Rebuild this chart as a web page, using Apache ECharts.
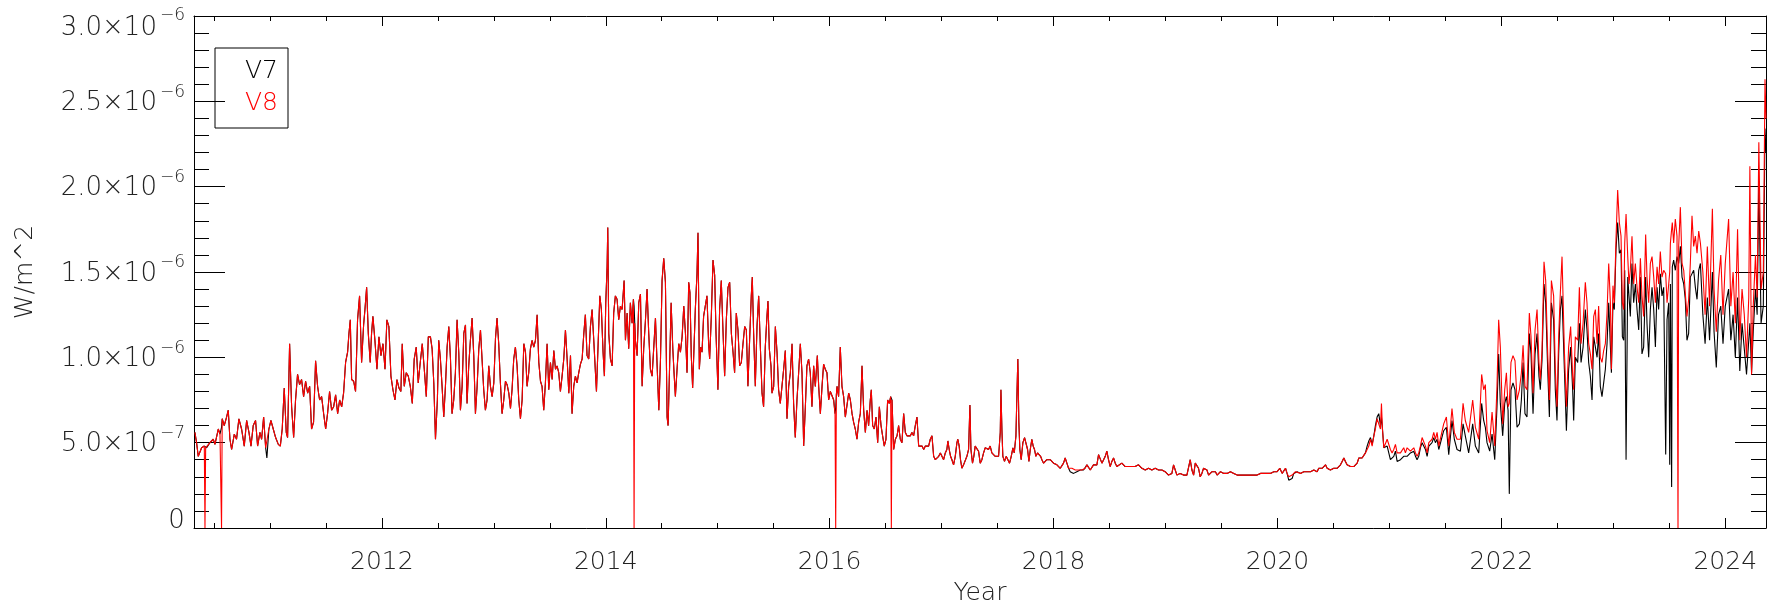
<!DOCTYPE html>
<html><head><meta charset="utf-8">
<script src="https://cdn.jsdelivr.net/npm/echarts@6.0.0/dist/echarts.min.js"></script>
<style>html,body{margin:0;padding:0;background:#fff}#chart{width:1777px;height:612px}</style>
</head><body><div id="chart"></div>
<script>
// Values, in units of 1e-7 W/m^2 (decimal years on x)
const years = [
2010.330,2010.345,2010.360,2010.390,2010.414,2010.420,2010.426,2010.435,2010.464,2010.494,
2010.509,2010.539,2010.554,2010.568,2010.574,2010.592,2010.613,2010.628,2010.643,2010.658,
2010.682,2010.702,2010.723,2010.747,2010.771,2010.792,2010.813,2010.831,2010.851,2010.872,
2010.890,2010.911,2010.926,2010.944,2010.962,2010.973,2010.991,2011.009,2011.030,2011.051,
2011.075,2011.093,2011.110,2011.128,2011.146,2011.158,2011.176,2011.194,2011.212,2011.229,
2011.247,2011.265,2011.283,2011.301,2011.319,2011.337,2011.355,2011.372,2011.390,2011.408,
2011.426,2011.444,2011.462,2011.480,2011.498,2011.515,2011.533,2011.551,2011.569,2011.587,
2011.605,2011.623,2011.641,2011.658,2011.676,2011.694,2011.706,2011.718,2011.730,2011.748,
2011.765,2011.783,2011.801,2011.819,2011.837,2011.849,2011.864,2011.879,2011.896,2011.908,
2011.920,2011.938,2011.956,2011.974,2011.992,2012.010,2012.028,2012.045,2012.063,2012.081,
2012.099,2012.117,2012.135,2012.153,2012.170,2012.182,2012.200,2012.218,2012.236,2012.254,
2012.272,2012.289,2012.307,2012.325,2012.343,2012.361,2012.379,2012.397,2012.415,2012.434,
2012.449,2012.464,2012.479,2012.496,2012.508,2012.523,2012.538,2012.553,2012.568,2012.583,
2012.598,2012.613,2012.627,2012.642,2012.657,2012.672,2012.687,2012.702,2012.717,2012.732,
2012.747,2012.761,2012.776,2012.791,2012.806,2012.821,2012.836,2012.851,2012.866,2012.881,
2012.895,2012.910,2012.925,2012.940,2012.955,2012.970,2012.985,2013.000,2013.015,2013.029,
2013.044,2013.059,2013.074,2013.089,2013.104,2013.119,2013.134,2013.149,2013.163,2013.178,
2013.193,2013.208,2013.223,2013.238,2013.253,2013.268,2013.283,2013.297,2013.312,2013.327,
2013.342,2013.357,2013.372,2013.387,2013.402,2013.417,2013.431,2013.446,2013.461,2013.476,
2013.491,2013.506,2013.521,2013.536,2013.551,2013.565,2013.580,2013.595,2013.610,2013.625,
2013.640,2013.655,2013.670,2013.685,2013.699,2013.714,2013.729,2013.744,2013.759,2013.774,
2013.789,2013.804,2013.818,2013.833,2013.848,2013.863,2013.878,2013.893,2013.908,2013.917,
2013.932,2013.947,2013.961,2013.976,2013.988,2014.000,2014.012,2014.018,2014.027,2014.042,
2014.057,2014.071,2014.086,2014.101,2014.116,2014.131,2014.146,2014.164,2014.176,2014.191,
2014.205,2014.220,2014.235,2014.247,2014.253,2014.259,2014.265,2014.280,2014.295,2014.310,
2014.325,2014.339,2014.354,2014.369,2014.384,2014.399,2014.414,2014.429,2014.444,2014.459,
2014.474,2014.489,2014.503,2014.518,2014.533,2014.548,2014.557,2014.569,2014.584,2014.599,
2014.610,2014.622,2014.637,2014.652,2014.667,2014.682,2014.697,2014.712,2014.726,2014.741,
2014.752,2014.764,2014.776,2014.788,2014.800,2014.815,2014.824,2014.836,2014.848,2014.860,
2014.874,2014.889,2014.904,2014.919,2014.928,2014.943,2014.958,2014.973,2014.985,2015.002,
2015.017,2015.032,2015.047,2015.062,2015.077,2015.092,2015.107,2015.122,2015.137,2015.151,
2015.166,2015.181,2015.196,2015.211,2015.226,2015.241,2015.256,2015.270,2015.285,2015.300,
2015.309,2015.321,2015.336,2015.351,2015.366,2015.381,2015.396,2015.410,2015.425,2015.440,
2015.449,2015.461,2015.476,2015.485,2015.500,2015.515,2015.530,2015.544,2015.559,2015.574,
2015.589,2015.604,2015.619,2015.634,2015.649,2015.664,2015.678,2015.693,2015.708,2015.723,
2015.738,2015.753,2015.768,2015.783,2015.797,2015.812,2015.827,2015.842,2015.857,2015.872,
2015.890,2015.902,2015.917,2015.932,2015.946,2015.961,2015.976,2015.991,2016.006,2016.021,
2016.036,2016.048,2016.054,2016.060,2016.066,2016.080,2016.095,2016.110,2016.125,2016.140,
2016.155,2016.170,2016.185,2016.200,2016.214,2016.229,2016.244,2016.259,2016.274,2016.289,
2016.304,2016.319,2016.334,2016.348,2016.363,2016.372,2016.384,2016.399,2016.414,2016.429,
2016.444,2016.459,2016.473,2016.488,2016.503,2016.518,2016.533,2016.545,2016.551,2016.557,
2016.572,2016.587,2016.602,2016.616,2016.631,2016.646,2016.661,2016.676,2016.691,2016.706,
2016.721,2016.735,2016.750,2016.765,2016.780,2016.795,2016.810,2016.825,2016.840,2016.855,
2016.869,2016.884,2016.899,2016.914,2016.929,2016.944,2016.959,2016.974,2016.989,2017.003,
2017.018,2017.033,
2017.047,2017.056,2017.068,2017.080,2017.092,2017.107,2017.122,2017.137,2017.145,2017.157,
2017.169,2017.181,2017.196,2017.211,2017.226,2017.241,2017.253,2017.262,2017.276,2017.288,
2017.300,2017.315,2017.330,2017.345,2017.360,2017.375,2017.390,2017.405,2017.419,2017.434,
2017.449,2017.464,2017.479,2017.494,2017.509,2017.524,2017.530,2017.539,2017.547,2017.562,
2017.577,2017.592,2017.607,2017.622,2017.637,2017.649,2017.664,2017.672,2017.681,2017.690,
2017.699,2017.711,2017.726,2017.741,2017.756,2017.768,2017.780,2017.792,2017.806,2017.818,
2017.830,2017.842,2017.857,2017.872,2017.884,2017.896,2017.911,2017.926,2017.940,2017.955,
2017.970,2017.985,2018.000,2018.015,2018.030,2018.045,2018.060,2018.075,2018.089,2018.104,
2018.119,2018.134,2018.149,2018.164,2018.179,2018.194,2018.208,2018.223,2018.238,2018.253,
2018.268,2018.283,2018.298,2018.313,2018.328,2018.342,2018.357,2018.372,2018.387,2018.402,
2018.417,2018.432,2018.447,2018.462,2018.476,2018.491,2018.506,2018.521,2018.536,2018.551,
2018.566,2018.581,2018.610,2018.640,2018.670,2018.700,2018.729,2018.759,2018.789,2018.819,
2018.849,2018.878,2018.908,2018.938,2018.968,2018.997,2019.012,2019.027,2019.042,2019.057,
2019.072,2019.087,2019.102,2019.117,2019.131,2019.146,2019.161,2019.176,2019.191,2019.206,
2019.221,2019.236,2019.251,2019.266,2019.280,2019.295,2019.310,2019.325,2019.340,2019.355,
2019.370,2019.385,
2019.402,2019.416,2019.431,2019.446,2019.461,2019.491,2019.521,2019.550,2019.580,2019.610,
2019.640,2019.669,2019.699,2019.729,2019.759,2019.789,2019.818,2019.848,2019.878,2019.908,
2019.937,2019.967,2019.997,2020.021,2020.042,2020.057,2020.072,2020.086,2020.101,2020.116,
2020.131,2020.146,2020.161,2020.176,2020.205,2020.235,2020.265,2020.295,2020.325,2020.339,
2020.354,2020.369,2020.384,2020.399,2020.414,2020.429,2020.444,2020.459,2020.473,2020.488,
2020.503,2020.518,2020.533,2020.548,2020.563,2020.578,2020.593,2020.607,2020.622,2020.637,
2020.652,2020.667,2020.682,2020.697,2020.712,2020.727,2020.741,2020.756,2020.771,2020.786,
2020.801,2020.816,2020.831,2020.846,2020.861,2020.875,2020.890,2020.905,2020.920,2020.929,
2020.938,2020.950,2020.965,2020.980,2020.995,2021.009,2021.024,2021.039,2021.054,2021.069,
2021.084,2021.099,2021.114,2021.128,2021.143,2021.158,2021.173,2021.188,2021.203,2021.218,
2021.233,2021.247,2021.262,2021.277,2021.292,2021.307,2021.322,2021.337,2021.352,2021.366,
2021.381,2021.396,2021.411,2021.426,2021.441,
2021.455,2021.485,2021.509,2021.530,2021.559,2021.580,2021.604,2021.634,2021.658,2021.678,
2021.708,2021.744,2021.768,2021.798,2021.824,2021.842,2021.857,2021.872,2021.896,2021.917,
2021.941,2021.961,2021.976,2021.991,2022.012,2022.030,2022.045,2022.060,2022.071,2022.086,
2022.104,2022.122,2022.140,2022.161,2022.179,2022.194,2022.211,2022.229,2022.250,2022.265,
2022.283,2022.301,2022.319,2022.336,2022.348,2022.363,2022.381,2022.396,2022.414,2022.429,
2022.447,2022.467,2022.482,2022.497,2022.512,2022.527,2022.542,2022.563,2022.581,2022.601,
2022.619,2022.637,2022.646,2022.661,2022.682,2022.697,2022.712,2022.730,2022.750,2022.765,
2022.780,2022.795,2022.810,2022.825,2022.840,2022.855,2022.869,2022.884,2022.899,2022.914,
2022.929,2022.944,2022.959,2022.974,2022.983,2022.997,2023.009,2023.024,2023.039,2023.054,
2023.069,2023.081,2023.093,2023.102,2023.114,2023.129,2023.140,2023.152,2023.167,2023.182,
2023.197,2023.212,2023.227,2023.242,2023.256,2023.271,2023.289,2023.301,2023.316,2023.331,
2023.346,2023.361,2023.376,2023.391,2023.405,2023.420,2023.435,2023.450,2023.468,2023.480,
2023.495,2023.504,2023.510,2023.521,2023.527,2023.539,2023.554,2023.569,2023.578,2023.584,
2023.599,2023.614,2023.629,2023.643,2023.658,2023.673,2023.688,2023.703,2023.718,2023.733,
2023.748,2023.763,2023.778,
2023.800,2023.820,2023.840,2023.860,2023.885,2023.900,2023.920,2023.940,2023.960,2023.980,
2024.000,2024.030,2024.050,2024.070,2024.090,2024.110,2024.130,2024.150,2024.170,2024.190,
2024.210,2024.220,2024.235,2024.250,2024.270,2024.285,2024.300,2024.320,2024.340,2024.355,
2024.364
];

const v7 = [
5.6,5.0,4.2,4.7,4.8,4.8,4.7,4.7,5.0,5.2,
4.9,5.8,5.5,5.9,6.4,6.0,6.5,6.9,5.2,4.6,
5.5,5.2,6.4,5.8,4.8,6.3,5.6,4.8,6.0,6.3,
4.8,5.6,5.2,6.5,4.7,4.1,5.8,6.3,5.8,5.3,
4.9,4.8,5.8,8.2,5.6,5.3,10.8,7.1,5.3,7.5,
9.0,8.4,8.7,7.7,8.6,7.9,8.3,5.8,6.2,9.8,
8.3,7.5,7.7,6.7,5.8,6.7,8.0,6.9,7.1,7.8,
6.7,7.5,7.1,7.9,9.7,10.3,11.4,12.2,8.7,8.6,
8.0,12.2,13.6,9.7,11.9,12.8,14.1,11.4,9.7,11.4,
12.4,11.0,9.3,11.2,10.1,10.8,9.3,12.2,11.8,8.9,
8.1,7.5,8.7,8.2,8.0,10.8,8.3,9.1,8.9,8.3,
7.3,9.9,10.6,8.5,9.7,10.8,9.3,7.7,11.2,11.2,
10.5,8.5,5.2,7.5,11.0,9.9,8.3,6.5,8.3,10.6,
11.8,9.9,6.7,7.5,9.1,12.2,10.3,6.9,8.3,11.4,
11.9,7.3,9.5,11.0,12.3,10.1,6.7,8.3,10.5,11.6,
9.9,8.1,6.9,7.5,9.5,8.3,7.7,8.5,11.1,12.3,
10.8,8.5,6.7,7.5,8.6,8.4,7.9,7.0,8.1,9.9,
10.6,9.5,7.5,6.4,7.5,10.8,10.3,8.3,9.1,10.5,
11.0,10.6,11.0,12.5,9.7,8.6,8.3,6.9,8.5,10.8,
8.1,9.7,8.7,10.4,9.3,9.5,9.1,8.0,8.9,9.9,
11.6,9.9,7.9,10.1,6.7,8.3,8.9,8.5,9.1,9.6,
9.9,11.4,12.5,10.1,9.9,11.8,12.8,11.0,9.1,8.0,
10.8,13.6,12.8,10.3,8.9,13.2,15.3,17.6,11.4,9.9,
9.5,12.6,13.6,13.4,12.2,13.0,12.8,14.5,11.0,12.6,
10.5,13.2,12.0,13.4,13.0,12.0,11.0,10.1,13.2,13.7,
8.3,10.5,12.1,14.0,11.4,9.3,8.9,10.6,12.3,9.5,
6.9,9.9,14.5,15.8,14.4,6.5,6.0,9.1,13.2,10.5,
9.1,7.7,9.3,10.8,10.3,11.2,13.0,11.4,9.1,14.4,
13.8,10.1,8.2,10.5,12.8,14.9,17.3,9.3,10.6,10.3,
12.4,13.0,13.6,10.8,9.9,12.4,15.7,14.8,11.4,8.1,
12.8,14.5,11.6,8.9,12.2,14.1,14.4,11.4,10.3,9.1,
12.6,11.6,9.5,9.7,10.8,11.8,11.6,8.3,11.0,13.6,
14.7,11.4,8.3,11.8,13.6,10.6,7.9,7.1,10.6,12.4,
13.3,10.5,9.5,7.9,8.3,11.8,10.3,8.1,7.3,8.3,
9.3,10.4,6.4,8.3,9.1,10.8,7.3,5.3,7.5,9.1,
10.8,9.1,4.8,7.1,9.5,9.9,9.1,7.1,9.5,8.3,
10.1,8.3,6.7,8.3,9.6,9.3,9.1,7.5,8.0,7.9,
7.5,6.7,7.0,7.8,8.3,7.7,10.6,8.3,7.7,6.5,
6.4,7.9,7.5,6.7,6.2,5.8,5.2,6.2,6.7,9.5,
6.9,5.6,6.9,6.0,7.5,8.1,6.0,5.8,6.5,5.0,
7.1,6.0,5.4,4.8,5.2,7.5,7.3,7.7,7.6,7.5,
4.6,5.2,5.4,6.0,5.2,5.0,6.7,5.6,5.4,5.5,
5.4,5.6,5.4,6.0,6.5,4.8,4.7,4.8,4.6,4.8,
4.7,4.8,5.2,5.4,4.2,4.0,4.0,4.2,4.4,4.2,
4.0,4.4,
4.6,5.1,4.6,4.2,4.0,3.7,4.2,5.0,5.2,4.8,
4.0,3.5,3.7,3.8,4.2,4.6,7.2,4.6,3.8,4.2,
4.8,4.7,4.5,3.8,4.0,4.4,4.7,4.8,4.6,4.8,
4.4,4.3,4.2,4.1,4.2,5.6,8.1,5.7,4.2,3.9,
4.2,4.0,3.8,4.2,4.7,4.4,5.4,7.6,9.9,6.2,
4.6,4.0,5.0,5.3,5.2,4.6,3.9,4.6,5.2,4.8,
4.6,4.2,4.4,4.5,4.2,4.0,3.8,3.7,4.0,4.1,
4.0,4.1,3.8,3.7,3.7,3.7,3.5,3.6,3.8,4.1,
3.8,3.5,3.3,3.3,3.2,3.2,3.3,3.3,3.4,3.4,
3.4,3.5,3.7,3.8,3.4,3.5,3.7,3.8,3.7,4.3,
4.4,3.8,3.9,4.2,4.5,4.0,3.6,3.9,4.1,3.8,
3.6,3.7,3.8,3.6,3.6,3.6,3.6,3.7,3.5,3.4,
3.5,3.4,3.5,3.4,3.4,3.3,3.2,3.1,3.1,3.2,
3.7,3.4,3.1,3.2,3.2,3.3,3.1,3.2,3.1,3.2,
4.0,3.4,3.1,3.8,3.8,3.5,3.0,3.2,3.5,3.6,
3.4,3.1,
3.1,3.3,3.4,3.3,3.1,3.3,3.2,3.2,3.3,3.2,
3.1,3.1,3.1,3.1,3.1,3.1,3.1,3.2,3.2,3.2,
3.2,3.3,3.3,3.5,3.2,3.3,3.5,3.2,2.8,2.7,
2.9,3.2,3.3,3.3,3.2,3.3,3.3,3.3,3.4,3.5,
3.3,3.5,3.4,3.5,3.6,3.7,3.5,3.4,3.4,3.5,
3.5,3.6,3.5,3.5,3.7,3.9,4.1,3.9,3.7,3.6,
3.6,3.6,3.6,3.6,3.8,4.1,4.2,4.1,4.2,4.4,
4.8,5.1,5.3,4.9,5.4,6.0,6.5,6.7,6.0,6.5,
5.8,4.7,4.6,4.8,4.7,4.0,3.9,4.2,4.5,3.9,
3.9,4.0,4.1,4.2,4.2,4.2,4.3,4.4,4.4,4.5,
4.2,4.0,4.2,4.7,5.0,5.0,4.6,4.2,4.8,4.7,
5.0,5.3,5.0,5.2,4.6,
4.6,5.7,5.9,4.3,6.3,5.2,4.6,4.5,6.1,5.4,
4.4,6.1,4.8,4.4,7.3,6.3,5.9,5.0,4.5,5.5,
4.0,7.1,10.2,7.3,5.4,7.3,7.7,6.9,2.0,8.1,
8.5,8.1,5.9,6.1,7.5,9.7,6.7,6.5,11.4,10.2,
6.7,10.2,11.4,8.9,8.1,9.8,14.3,13.2,9.3,6.5,
13.2,12.2,8.1,6.3,10.2,12.8,13.6,9.3,5.7,9.3,
10.6,8.1,6.3,10.0,9.7,12.0,9.7,10.6,12.8,11.6,
9.7,8.9,7.5,11.2,11.2,10.0,11.4,8.3,7.7,8.5,
9.3,10.8,13.2,10.6,9.1,13.2,12.8,16.3,17.9,16.1,
16.3,11.2,11.0,15.1,4.0,14.7,13.6,12.4,15.5,13.2,
14.3,12.8,11.6,14.7,10.2,10.6,14.7,12.0,10.0,12.8,
14.1,12.8,10.6,14.1,12.8,14.9,13.6,14.1,4.3,12.2,
13.2,3.7,14.3,2.4,15.3,15.7,15.1,15.9,16.0,15.5,
16.5,14.7,14.3,13.4,11.0,11.4,14.7,14.7,15.1,14.1,
13.4,15.1,15.5,
12.5,10.8,13.5,11.0,15.0,11.5,9.4,12.5,13.0,10.8,
13.0,14.0,11.0,12.5,10.0,13.5,9.2,12.0,10.5,9.0,
11.0,12.0,9.1,11.5,14.0,12.5,20.2,12.0,13.0,23.4,
22.0
];

const v8 = [
5.6,5.0,4.2,4.7,4.8,0,4.7,4.7,5.0,5.2,
4.9,5.8,5.5,0,6.4,6.0,6.5,6.9,5.2,4.6,
5.5,5.2,6.4,5.8,4.8,6.3,5.6,4.8,6.0,6.3,
4.8,5.6,5.2,6.5,4.7,4.6,5.8,6.3,5.8,5.3,
4.9,4.8,5.8,8.2,5.6,5.3,10.8,7.1,5.3,7.5,
9.0,8.4,8.7,7.7,8.6,7.9,8.3,5.8,6.2,9.8,
8.3,7.5,7.7,6.7,5.8,6.7,8.0,6.9,7.1,7.8,
6.7,7.5,7.1,7.9,9.7,10.3,11.4,12.2,8.7,8.6,
8.0,12.2,13.6,9.7,11.9,12.8,14.1,11.4,9.7,11.4,
12.4,11.0,9.3,11.2,10.1,10.8,9.3,12.2,11.8,8.9,
8.1,7.5,8.7,8.2,8.0,10.8,8.3,9.1,8.9,8.3,
7.3,9.9,10.6,8.5,9.7,10.8,9.3,7.7,11.2,11.2,
10.5,8.5,5.2,7.5,11.0,9.9,8.3,6.5,8.3,10.6,
11.8,9.9,6.7,7.5,9.1,12.2,10.3,6.9,8.3,11.4,
11.9,7.3,9.5,11.0,12.3,10.1,6.7,8.3,10.5,11.6,
9.9,8.1,6.9,7.5,9.5,8.3,7.7,8.5,11.1,12.3,
10.8,8.5,6.7,7.5,8.6,8.4,7.9,7.0,8.1,9.9,
10.6,9.5,7.5,6.4,7.5,10.8,10.3,8.3,9.1,10.5,
11.0,10.6,11.0,12.5,9.7,8.6,8.3,6.9,8.5,10.8,
8.1,9.7,8.7,10.4,9.3,9.5,9.1,8.0,8.9,9.9,
11.6,9.9,7.9,10.1,6.7,8.3,8.9,8.5,9.1,9.6,
9.9,11.4,12.5,10.1,9.9,11.8,12.8,11.0,9.1,8.0,
10.8,13.6,12.8,10.3,8.9,13.2,15.3,17.6,11.4,9.9,
9.5,12.6,13.6,13.4,12.2,13.0,12.8,14.5,11.0,12.6,
10.5,13.2,12.0,13.4,0,12.0,11.0,10.1,13.2,13.7,
8.3,10.5,12.1,14.0,11.4,9.3,8.9,10.6,12.3,9.5,
6.9,9.9,14.5,15.8,14.4,6.5,6.0,9.1,13.2,10.5,
9.1,7.7,9.3,10.8,10.3,11.2,13.0,11.4,9.1,14.4,
13.8,10.1,8.2,10.5,12.8,14.9,17.3,9.3,10.6,10.3,
12.4,13.0,13.6,10.8,9.9,12.4,15.7,14.8,11.4,8.1,
12.8,14.5,11.6,8.9,12.2,14.1,14.4,11.4,10.3,9.1,
12.6,11.6,9.5,9.7,10.8,11.8,11.6,8.3,11.0,13.6,
14.7,11.4,8.3,11.8,13.6,10.6,7.9,7.1,10.6,12.4,
13.3,10.5,9.5,7.9,8.3,11.8,10.3,8.1,7.3,8.3,
9.3,10.4,6.4,8.3,9.1,10.8,7.3,5.3,7.5,9.1,
10.8,9.1,4.8,7.1,9.5,9.9,9.1,7.1,9.5,8.3,
10.1,8.3,6.7,8.3,9.6,9.3,9.1,7.5,8.0,7.9,
7.5,6.7,0,7.8,8.3,7.7,10.6,8.3,7.7,6.5,
6.4,7.9,7.5,6.7,6.2,5.8,5.2,6.2,6.7,9.5,
6.9,5.6,6.9,6.0,7.5,8.1,6.0,5.8,6.5,5.0,
7.1,6.0,5.4,4.8,5.2,7.5,7.3,7.7,0,7.5,
4.6,5.2,5.4,6.0,5.2,5.0,6.7,5.6,5.4,5.5,
5.4,5.6,5.4,6.0,6.5,4.8,4.7,4.8,4.6,4.8,
4.7,4.8,5.2,5.4,4.2,4.0,4.0,4.2,4.4,4.2,
4.0,4.4,
4.6,5.1,4.6,4.2,4.0,3.7,4.2,5.0,5.2,4.8,
4.0,3.5,3.7,3.8,4.2,4.6,7.2,4.6,3.8,4.2,
4.8,4.7,4.5,3.8,4.0,4.4,4.7,4.8,4.6,4.8,
4.4,4.3,4.2,4.1,4.2,5.6,8.1,5.7,4.2,3.9,
4.2,4.0,3.8,4.2,4.7,4.4,5.4,7.6,9.9,6.2,
4.6,4.0,5.0,5.3,5.2,4.6,3.9,4.6,5.2,4.8,
4.6,4.2,4.4,4.5,4.2,4.0,3.8,3.7,4.0,4.1,
4.0,4.1,3.8,3.7,3.7,3.7,3.5,3.6,3.8,4.1,
3.8,3.5,3.5,3.5,3.4,3.4,3.4,3.4,3.4,3.4,
3.4,3.5,3.7,3.8,3.4,3.5,3.7,3.8,3.7,4.3,
4.4,3.8,3.9,4.2,4.5,4.0,3.6,3.9,4.1,3.8,
3.6,3.7,3.8,3.6,3.6,3.6,3.6,3.7,3.5,3.4,
3.5,3.4,3.5,3.4,3.4,3.3,3.2,3.1,3.1,3.2,
3.7,3.4,3.1,3.2,3.2,3.3,3.1,3.2,3.1,3.2,
4.0,3.4,3.1,3.8,3.8,3.5,3.0,3.2,3.5,3.6,
3.4,3.1,
3.1,3.3,3.4,3.3,3.1,3.3,3.2,3.2,3.3,3.2,
3.1,3.1,3.1,3.1,3.1,3.1,3.1,3.2,3.2,3.2,
3.2,3.3,3.3,3.5,3.2,3.3,3.5,3.2,3.0,3.0,
3.1,3.2,3.3,3.3,3.2,3.3,3.3,3.3,3.4,3.5,
3.3,3.5,3.4,3.5,3.6,3.7,3.5,3.4,3.4,3.5,
3.5,3.6,3.5,3.5,3.7,3.9,4.1,3.9,3.7,3.6,
3.6,3.6,3.6,3.6,3.8,4.1,4.2,4.1,4.2,4.4,
4.4,4.8,5.2,4.8,5.4,5.8,6.4,6.5,5.8,7.3,
5.8,4.7,4.8,5.2,5.3,4.6,4.4,4.6,4.9,4.4,
4.3,4.4,4.5,4.7,4.4,4.7,4.6,4.5,4.6,4.7,
4.4,4.2,4.4,4.8,5.3,5.2,4.8,4.4,5.0,4.9,
5.2,5.6,5.2,5.6,4.8,
4.7,6.1,6.5,4.8,7.0,5.6,5.2,5.2,7.3,6.3,
5.6,7.5,5.9,5.2,9.0,8.1,8.4,5.7,5.0,6.8,
4.8,8.3,12.2,10.6,6.1,8.1,9.1,7.1,7.3,9.7,
10.1,9.8,7.5,8.1,9.1,10.7,8.3,8.1,12.6,11.2,
7.9,11.6,12.8,9.7,8.7,10.4,15.6,14.5,10.2,7.5,
14.5,13.6,9.3,7.1,11.2,13.8,15.9,10.4,7.1,10.6,
11.8,8.9,8.1,11.2,11.0,14.1,10.8,12.0,14.4,13.2,
10.8,10.2,9.3,12.4,12.8,10.8,13.0,10.0,9.7,10.4,
10.8,12.6,15.5,13.2,9.3,14.2,13.2,16.9,19.8,17.9,
17.1,13.2,12.8,16.7,18.4,15.9,14.3,15.1,17.1,14.3,
15.5,14.1,13.2,15.8,13.6,12.4,17.2,14.7,13.2,15.5,
15.9,14.7,13.2,15.3,14.3,16.2,14.7,15.1,14.9,13.2,
14.3,15.0,16.7,17.5,17.9,16.7,18.1,17.1,0,16.5,
18.8,15.5,15.1,13.8,12.4,13.4,15.5,18.3,16.5,17.1,
16.1,17.4,16.7,
15.0,12.5,16.5,13.0,18.7,14.0,11.5,14.5,16.0,12.5,
15.5,18.1,13.0,15.0,12.0,17.5,11.0,14.0,12.5,10.0,
13.5,21.2,9.0,13.0,16.0,13.5,22.6,14.0,15.0,26.3,
24.0
];

const seriesNames = ['V7', 'V8'];
const seriesColors = ['#000000', '#ff0000'];
const xRange = [2010.322, 2024.364];
const yRange = [0, 30];   // 0 .. 3.0e-6 in units of 1e-7

const FONT = "'DejaVu Sans', 'Liberation Sans', sans-serif";
const FW = 200;
const TXT = '#222222';

function yLabel(v) {
  if (v === 0) return '{z|0}{e| }';
  const big = v >= 10;
  const mant = (big ? v / 10 : v).toFixed(1);
  const ex = big ? '6' : '7';
  if (v === yRange[1]) return '{bt|' + mant + '×10}{st|−' + ex + '}';
  return '{b|' + mant + '×10}{s|−' + ex + '}';
}

const n = Math.min(years.length, v7.length, v8.length);
const d7 = [], d8 = [];
for (let i = 0; i < n; i++) { d7.push([years[i], v7[i]]); d8.push([years[i], v8[i]]); }

const axisLine = { show: true, onZero: false, lineStyle: { color: '#000', width: 1 } };
const xCommon = {
  type: 'value', min: xRange[0], max: xRange[1], splitNumber: 7, minInterval: 2, maxInterval: 2,
  axisLine: axisLine,
  axisTick: { show: true, inside: true, length: 10, lineStyle: { color: '#000', width: 1 } },
  minorTick: { show: true, splitNumber: 4, length: 5, lineStyle: { color: '#000', width: 1 } },
  splitLine: { show: false }, minorSplitLine: { show: false }
};
const yCommon = {
  type: 'value', min: yRange[0], max: yRange[1], interval: 5,
  axisLine: axisLine,
  axisTick: { show: true, inside: true, length: 31, lineStyle: { color: '#000', width: 1 } },
  minorTick: { show: true, splitNumber: 5, length: 15, lineStyle: { color: '#000', width: 1 } },
  splitLine: { show: false }, minorSplitLine: { show: false }
};
const t = (size, extra) => Object.assign({ fontSize: size, fontFamily: FONT, fontWeight: FW, color: TXT }, extra || {});

const chart = echarts.init(document.getElementById('chart'), null, { renderer: 'canvas' });
chart.setOption({
  animation: false,
  backgroundColor: '#ffffff',
  textStyle: { fontFamily: FONT, fontWeight: FW },
  grid: { left: 194, right: 11, top: 16, bottom: 84 },
  legend: {
    show: true, left: 215, top: 48, orient: 'vertical', align: 'left',
    icon: 'none', itemWidth: 0, itemHeight: 0, itemGap: 4,
    padding: [9, 10, 11, 25], borderColor: '#000', borderWidth: 1, selectedMode: false,
    textStyle: { fontSize: 25, fontFamily: FONT, fontWeight: FW, lineHeight: 28 },
    data: [
      { name: seriesNames[0], textStyle: { color: seriesColors[0] } },
      { name: seriesNames[1], textStyle: { color: seriesColors[1] } }
    ]
  },
  xAxis: [
    Object.assign({}, xCommon, {
      position: 'bottom',
      name: 'Year', nameLocation: 'middle', nameGap: 53,
      nameTextStyle: t(25),
      axisLabel: Object.assign(t(25), {
        show: true, margin: 22, showMinLabel: false, showMaxLabel: false,
        formatter: function (v) { return Number.isInteger(v) ? String(v) : ''; }
      })
    }),
    Object.assign({}, xCommon, { position: 'top', axisLabel: { show: false } })
  ],
  yAxis: [
    Object.assign({}, yCommon, {
      position: 'left',
      name: 'W/m^2', nameLocation: 'middle', nameGap: 156,
      nameTextStyle: t(25),
      axisLabel: Object.assign(t(26), {
        show: true, margin: 9,
        formatter: yLabel,
        rich: {
          b: t(26, { lineHeight: 40, height: 36, verticalAlign: 'bottom' }),
          s: t(17, { lineHeight: 22, height: 22, verticalAlign: 'top', padding: [0, 0, 0, 3] }),
          bt: t(26, { lineHeight: 40, height: 15, verticalAlign: 'bottom' }),
          st: t(17, { verticalAlign: 'middle', padding: [0, 0, 0, 3] }),
          z: t(26, { height: 27, verticalAlign: 'top' }),
          e: { fontSize: 1, lineHeight: 40 }
        }
      })
    }),
    Object.assign({}, yCommon, { position: 'right', axisLabel: { show: false } })
  ],
  series: [
    { name: seriesNames[0], type: 'line', xAxisIndex: 0, yAxisIndex: 0, data: d7,
      showSymbol: false, symbol: 'none', silent: true, z: 2,
      lineStyle: { color: seriesColors[0], width: 1.1 }, itemStyle: { color: seriesColors[0] },
      emphasis: { disabled: true } },
    { name: seriesNames[1], type: 'line', xAxisIndex: 0, yAxisIndex: 0, data: d8,
      showSymbol: false, symbol: 'none', silent: true, z: 3,
      lineStyle: { color: seriesColors[1], width: 1.1 }, itemStyle: { color: seriesColors[1] },
      emphasis: { disabled: true } }
  ]
});
</script>
</body></html>
